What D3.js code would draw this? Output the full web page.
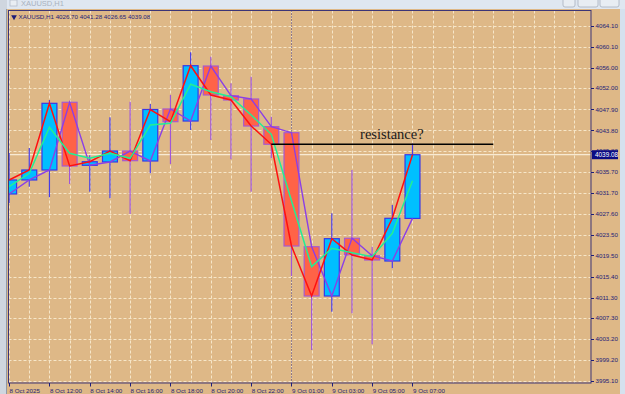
<!DOCTYPE html>
<html>
<head>
<meta charset="utf-8">
<script src="https://cdn.jsdelivr.net/npm/d3@7"></script>
<style>
  html, body { margin: 0; padding: 0; background: #dfe7f1; overflow: hidden; }
  svg { display: block; }
</style>
</head>
<body>
<div id="chart-box"></div>
<script>
// XAUUSD H1 bars, 8 Oct 10:00 .. 9 Oct 07:00
const times = ['8 Oct 10:00', '8 Oct 11:00', '8 Oct 12:00', '8 Oct 13:00', '8 Oct 14:00', '8 Oct 15:00',
  '8 Oct 16:00', '8 Oct 17:00', '8 Oct 18:00', '8 Oct 19:00', '8 Oct 20:00', '8 Oct 21:00', '8 Oct 22:00',
  '8 Oct 23:00', '9 Oct 01:00', '9 Oct 02:00', '9 Oct 03:00', '9 Oct 04:00', '9 Oct 05:00', '9 Oct 06:00',
  '9 Oct 07:00'];
const opens  = [4031.45, 4034.17, 4036.11, 4049.27, 4037.02, 4037.67, 4039.80, 4037.86, 4047.97, 4045.63, 4056.32,
  4050.55, 4049.91, 4044.53, 4043.36, 4021.20, 4011.62, 4022.84, 4019.45, 4018.42, 4026.70];
const highs  = [4039.41, 4040.39, 4049.70, 4049.40, 4039.00, 4046.35, 4049.38, 4048.94, 4050.69, 4058.99, 4058.13,
  4052.96, 4054.25, 4046.47, 4043.50, 4021.40, 4027.69, 4036.11, 4021.20, 4029.31, 4041.28];
const lows   = [4029.70, 4032.86, 4030.80, 4033.40, 4031.90, 4030.61, 4027.56, 4035.47, 4037.28, 4043.90, 4041.94,
  4038.19, 4031.89, 4038.38, 4015.50, 4001.10, 4008.57, 4008.26, 4002.23, 4017.00, 4026.65];
const closes = [4034.17, 4036.11, 4049.07, 4036.89, 4037.72, 4039.80, 4037.92, 4047.87, 4045.50, 4056.38, 4050.69,
  4049.72, 4044.66, 4041.11, 4021.34, 4011.62, 4022.76, 4019.60, 4018.62, 4026.72, 4039.08];
// green indicator line
const maLine = [4032.86, 4035.47, 4044.41, 4039.36, 4038.38, 4039.36, 4038.38, 4044.86, 4045.19, 4052.77, 4051.33,
  4050.36, 4046.80, 4043.05, 4030.14, 4017.32, 4020.89, 4020.04, 4019.26, 4023.81, 4034.03];

const priceTicks = [4064.10, 4060.10, 4056.00, 4052.00, 4047.90, 4043.80, 4039.80, 4035.70, 4031.70, 4027.60,
  4023.50, 4019.50, 4015.40, 4011.30, 4007.30, 4003.20, 3999.20, 3995.10];
const timeLabels = [
  { bar: 0, label: '8 Oct 2025' }, { bar: 2, label: '8 Oct 12:00' }, { bar: 4, label: '8 Oct 14:00' },
  { bar: 6, label: '8 Oct 16:00' }, { bar: 8, label: '8 Oct 18:00' }, { bar: 10, label: '8 Oct 20:00' },
  { bar: 12, label: '8 Oct 22:00' }, { bar: 14, label: '9 Oct 01:00' }, { bar: 16, label: '9 Oct 03:00' },
  { bar: 18, label: '9 Oct 05:00' }, { bar: 20, label: '9 Oct 07:00' }];
const symbol = 'XAUUSD,H1';
const daySeparator = [14];
const resistance = [{ price: 4041.1, from: 13, to: 24 }];
const notes = [{ text: 'resistance?', bar: 17.4, price: 4042.1 }];

const W = 625, H = 394;
const plot = { left: 8.5, right: 591, top: 10.5, bottom: 383 };
const navy = '#1d1d78';

const bars = times.map((t, i) => ({ i, t, o: opens[i], h: highs[i], l: lows[i], c: closes[i], ma: maLine[i] }));
const last = bars[bars.length - 1];

const x = d3.scaleLinear().domain([-0.03, 28.85]).range([plot.left, plot.right]);
const y = d3.scaleLinear().domain([3994.71, 4067.11]).range([plot.bottom, plot.top]);
const step = x(1) - x(0);
const bodyW = step * 0.74;

const svg = d3.select('#chart-box').append('svg')
  .attr('width', W).attr('height', H)
  .style('font-family', '"Liberation Sans", Arial, sans-serif');

// window frame
svg.append('rect').attr('width', W).attr('height', H).attr('fill', '#dfe7f1');
svg.append('rect').attr('x', 0).attr('y', 0).attr('width', 7).attr('height', H).attr('fill', '#cfd6df');
svg.append('line').attr('x1', 6.5).attr('x2', 6.5).attr('y1', 9).attr('y2', H).attr('stroke', '#8f99a8');
svg.append('rect').attr('x', 7).attr('y', 9).attr('width', 613).attr('height', H - 9).attr('fill', '#deb887');
svg.append('rect').attr('x', 620).attr('y', 9).attr('width', 5).attr('height', H - 9).attr('fill', '#d5e1ee');
svg.append('text').attr('x', 21).attr('y', 6).attr('font-size', 7.5).attr('fill', '#a9b2c0').text(symbol);
svg.append('rect').attr('x', 10).attr('y', 0).attr('width', 7).attr('height', 6)
  .attr('fill', '#e9eef4').attr('stroke', '#b3bccb').attr('stroke-width', 0.8);
[[563, 12], [578, 20], [600, 19]].forEach(([bx, bw]) => {
  svg.append('rect').attr('x', bx).attr('y', -2).attr('width', bw).attr('height', 9).attr('rx', 2)
    .attr('fill', '#e8edf3').attr('stroke', '#a7b0be').attr('stroke-width', 0.8);
});

const clip = svg.append('clipPath').attr('id', 'plot-clip')
  .append('rect').attr('x', plot.left).attr('y', plot.top)
  .attr('width', plot.right - plot.left).attr('height', plot.bottom - plot.top);

const graph = svg.append('g').attr('clip-path', 'url(#plot-clip)');

// grid
graph.selectAll('.hgrid').data(priceTicks).enter().append('line')
  .attr('x1', plot.left).attr('x2', plot.right)
  .attr('y1', d => Math.round(y(d)) + 0.5).attr('y2', d => Math.round(y(d)) + 0.5)
  .attr('stroke', '#f6e6c8').attr('stroke-dasharray', '3,2');
graph.selectAll('.vgrid').data(d3.range(0, 29)).enter().append('line')
  .attr('x1', d => Math.round(x(d)) + 0.5).attr('x2', d => Math.round(x(d)) + 0.5)
  .attr('y1', plot.top).attr('y2', plot.bottom)
  .attr('stroke', '#f6e6c8').attr('stroke-dasharray', '3,2');

// bid line
graph.append('line').attr('x1', plot.left).attr('x2', plot.right)
  .attr('y1', y(last.c)).attr('y2', y(last.c))
  .attr('stroke', '#f8ead3').attr('stroke-width', 1.2);

// day separator
graph.selectAll('.sep').data(daySeparator).enter().append('line')
  .attr('x1', d => Math.round(x(d)) + 0.5).attr('x2', d => Math.round(x(d)) + 0.5)
  .attr('y1', plot.top).attr('y2', plot.bottom)
  .attr('stroke', '#3b2a70').attr('stroke-dasharray', '1,2');

// candles
const up = d => d.c >= d.o;
graph.selectAll('.wick').data(bars).enter().append('line')
  .attr('x1', d => x(d.i)).attr('x2', d => x(d.i))
  .attr('y1', d => y(d.h)).attr('y2', d => y(d.l))
  .attr('stroke', d => up(d) ? '#4a3de6' : '#a056d8').attr('stroke-width', 1.2);
graph.selectAll('.body').data(bars).enter().append('rect')
  .attr('x', d => x(d.i) - bodyW / 2).attr('width', bodyW)
  .attr('y', d => y(Math.max(d.o, d.c)))
  .attr('height', d => Math.max(1, Math.abs(y(d.o) - y(d.c))))
  .attr('fill', d => up(d) ? '#00bfff' : '#ff6347')
  .attr('stroke', d => up(d) ? '#3737e8' : '#a65ad0').attr('stroke-width', 1.2);

// indicator lines
const lineOf = key => d3.line().x(d => x(d.i)).y(d => y(d[key]));
graph.append('path').datum(bars).attr('d', lineOf('o'))
  .attr('fill', 'none').attr('stroke', '#8b3fe6').attr('stroke-width', 1.4);
graph.append('path').datum(bars).attr('d', lineOf('c'))
  .attr('fill', 'none').attr('stroke', '#ff1010').attr('stroke-width', 1.5);
graph.append('path').datum(bars).attr('d', lineOf('ma'))
  .attr('fill', 'none').attr('stroke', '#22ee95').attr('stroke-width', 1.5);

// resistance line + note
graph.selectAll('.res').data(resistance).enter().append('line')
  .attr('x1', d => x(d.from)).attr('x2', d => x(d.to))
  .attr('y1', d => y(d.price)).attr('y2', d => y(d.price))
  .attr('stroke', '#000').attr('stroke-width', 1.5);
graph.selectAll('.note').data(notes).enter().append('text')
  .attr('x', d => x(d.bar)).attr('y', d => y(d.price))
  .attr('font-family', '"Liberation Serif", "Times New Roman", serif')
  .attr('font-size', 14.5).attr('fill', '#1a1a1a')
  .text(d => d.text);

// plot border
svg.append('rect').attr('x', plot.left).attr('y', plot.top)
  .attr('width', plot.right - plot.left).attr('height', plot.bottom - plot.top)
  .attr('fill', 'none').attr('stroke', '#3c3577').attr('stroke-width', 1);

// price axis
const yAxis = svg.append('g');
yAxis.selectAll('line').data(priceTicks).enter().append('line')
  .attr('x1', plot.right).attr('x2', plot.right + 3)
  .attr('y1', d => Math.round(y(d)) + 0.5).attr('y2', d => Math.round(y(d)) + 0.5)
  .attr('stroke', navy);
yAxis.selectAll('text').data(priceTicks).enter().append('text')
  .attr('x', plot.right + 4.5).attr('y', d => y(d)).attr('dy', '0.35em')
  .attr('font-size', 6.2).attr('fill', navy)
  .text(d => d.toFixed(2));

// current price tag
const tag = svg.append('g');
tag.append('rect').attr('x', plot.right + 1).attr('y', y(last.c) - 4.5)
  .attr('width', 26).attr('height', 9).attr('fill', '#0c0c84');
tag.append('text').attr('x', plot.right + 4).attr('y', y(last.c)).attr('dy', '0.35em')
  .attr('font-size', 6.4).attr('fill', '#ffffff').text(last.c.toFixed(2));

// time axis
const xAxis = svg.append('g');
xAxis.selectAll('line').data(timeLabels).enter().append('line')
  .attr('x1', d => Math.round(x(d.bar)) + 0.5).attr('x2', d => Math.round(x(d.bar)) + 0.5)
  .attr('y1', plot.bottom).attr('y2', plot.bottom + 3.5)
  .attr('stroke', navy);
xAxis.selectAll('text').data(timeLabels).enter().append('text')
  .attr('x', d => x(d.bar) + 0.5).attr('y', plot.bottom + 9.5)
  .attr('font-size', 6.2).attr('fill', navy)
  .text(d => d.label);

// header: symbol + last bar OHLC
const head = svg.append('g');
head.append('path').attr('d', d3.symbol(d3.symbolTriangle, 14)())
  .attr('transform', `translate(14,17) rotate(180)`).attr('fill', navy);
head.append('text').attr('x', 18.5).attr('y', 19.2).attr('font-size', 6.2).attr('fill', navy)
  .text(`${symbol}  ${[last.o, last.h, last.l, last.c].map(v => v.toFixed(2)).join(' ')}`);
</script>
</body>
</html>
